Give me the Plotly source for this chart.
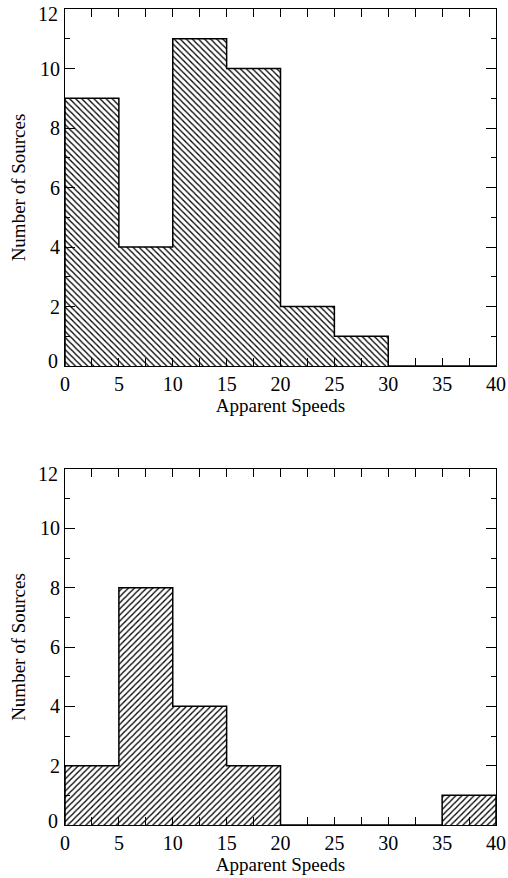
import plotly.graph_objects as go

bin_edges = [0, 5, 10, 15, 20, 25, 30, 35, 40]
top_counts = [9, 4, 11, 10, 2, 1, 0, 0]
bottom_counts = [2, 8, 4, 2, 0, 0, 0, 1]
x_tick_vals = [0, 5, 10, 15, 20, 25, 30, 35, 40]
y_tick_vals = [0, 2, 4, 6, 8, 10, 12]
x_title = "Apparent Speeds"
y_title = "Number of Sources"

centers = [(a + b) / 2 for a, b in zip(bin_edges[:-1], bin_edges[1:])]
widths = [b - a for a, b in zip(bin_edges[:-1], bin_edges[1:])]
y_min, y_max = y_tick_vals[0], y_tick_vals[-1]
x_min, x_max = bin_edges[0], bin_edges[-1]

FONT = "Liberation Serif, Times New Roman, serif"
TICKFONT = dict(family=FONT, size=20, color="black")

fig = go.Figure()

panels = [
    (top_counts, "\\", "x", "y", "y3", "y4"),
    (bottom_counts, "/", "x2", "y2", "y5", "y6"),
]

for counts, shape, xa, ya, ytop, ybot in panels:
    fig.add_trace(go.Bar(
        x=centers, y=counts, width=widths, xaxis=xa, yaxis=ya,
        marker=dict(color="white", line=dict(width=0),
                    pattern=dict(shape=shape, fgcolor="black", bgcolor="white",
                                 size=4.3, solidity=0.3, fillmode="replace")),
        showlegend=False, hoverinfo="skip",
    ))
    step_x = [bin_edges[0]] + list(bin_edges) + [bin_edges[-1]]
    step_y = [0] + list(counts) + [counts[-1], 0]
    fig.add_trace(go.Scatter(
        x=step_x, y=step_y, mode="lines", xaxis=xa, yaxis=ya,
        line=dict(color="black", width=1.5, shape="hv"),
        showlegend=False, hoverinfo="skip", cliponaxis=False,
    ))
    for la in (ytop, ybot):
        fig.add_trace(go.Scatter(x=[], y=[], xaxis=xa, yaxis=la,
                                 showlegend=False, hoverinfo="skip"))

x_axis = dict(
    range=[x_min, x_max], tickvals=x_tick_vals,
    showline=True, linecolor="black", linewidth=1, mirror="allticks",
    ticks="inside", ticklen=8, tickcolor="black", tickwidth=1,
    minor=dict(dtick=2.5, tick0=0, ticks="inside", ticklen=4, tickcolor="black", tickwidth=1, showgrid=False),
    showgrid=False, zeroline=False, automargin=False, ticklabeloverflow="allow",
    tickfont=TICKFONT,
    title=dict(text=x_title, standoff=1, font=dict(family=FONT, size=19, color="black")),
    domain=[65 / 508, 496 / 508],
)

inner_labels = [str(v) if v not in (y_min, y_max) else "" for v in y_tick_vals]
y_axis = dict(
    range=[y_min, y_max], tickvals=y_tick_vals, ticktext=inner_labels,
    showline=True, linecolor="black", linewidth=1, mirror="allticks",
    ticks="inside", ticklen=10, tickcolor="black", tickwidth=1,
    minor=dict(dtick=1, tick0=0, ticks="inside", ticklen=5, tickcolor="black", tickwidth=1, showgrid=False),
    showgrid=False, zeroline=False, automargin=False, ticklabeloverflow="allow",
    tickfont=TICKFONT,
    title=dict(text=y_title, standoff=9, font=dict(family=FONT, size=19, color="black")),
)

def end_label_axis(overlay, anchor, value, shift):
    return dict(
        overlaying=overlay, anchor=anchor, side="left",
        range=[y_min, y_max], tickvals=[value], ticktext=[str(value)],
        ticks="", showline=False, showgrid=False, zeroline=False,
        automargin=False, ticklabeloverflow="allow", ticklabelshift=shift,
        ticklabelstandoff=6,
        tickfont=TICKFONT, fixedrange=True,
    )

dom_top = [1 - 366 / 878, 1 - 9 / 878]
dom_bot = [1 - 825 / 878, 1 - 469 / 878]

fig.update_layout(
    width=508, height=878,
    margin=dict(l=0, r=0, t=0, b=0),
    paper_bgcolor="white", plot_bgcolor="white",
    bargap=0, barmode="overlay",
    xaxis=dict(x_axis, anchor="y"),
    yaxis=dict(y_axis, anchor="x", domain=dom_top),
    xaxis2=dict(x_axis, anchor="y2"),
    yaxis2=dict(y_axis, anchor="x2", domain=dom_bot),
    yaxis3=end_label_axis("y", "x", y_max, 5),
    yaxis4=end_label_axis("y", "x", y_min, -5),
    yaxis5=end_label_axis("y2", "x2", y_max, 5),
    yaxis6=end_label_axis("y2", "x2", y_min, -4),
    font=dict(family=FONT, color="black"),
)

fig.write_html("out.html")
